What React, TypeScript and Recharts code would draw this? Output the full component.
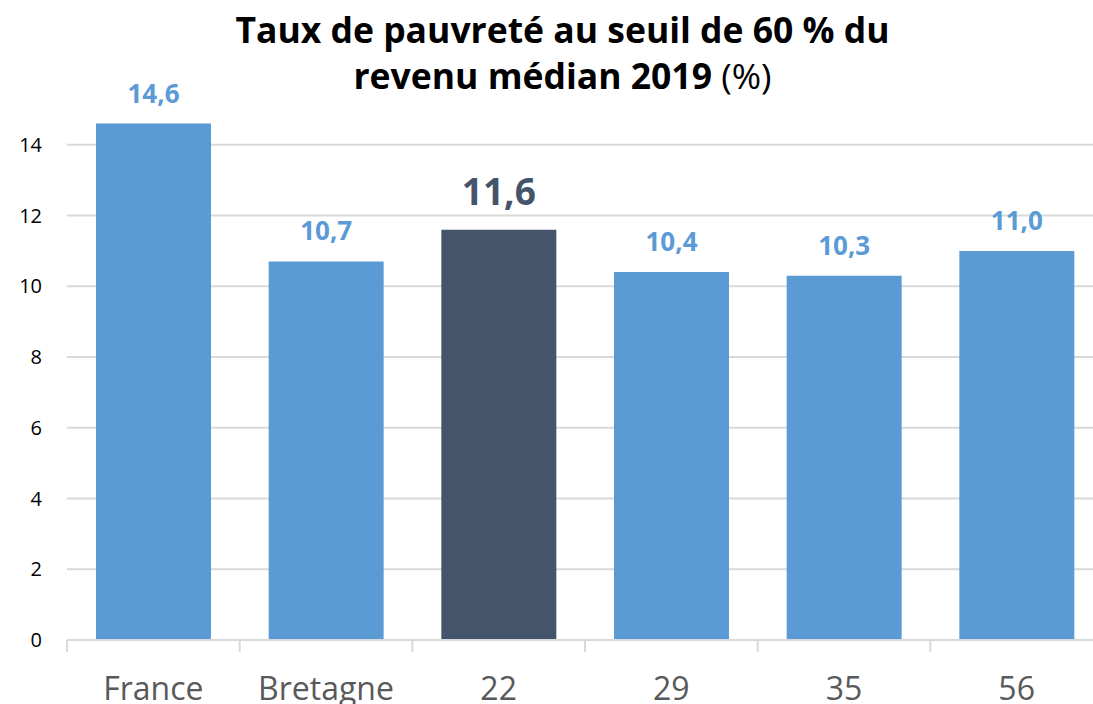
import React from "react";
import { BarChart, Bar, XAxis, YAxis, CartesianGrid, Cell, LabelList } from "recharts";

const categories = ["France", "Bretagne", "22", "29", "35", "56"];
const rates = [14.6, 10.7, 11.6, 10.4, 10.3, 11.0];
const yTicks = [0, 2, 4, 6, 8, 10, 12, 14];
const highlight = "22";

const FONT = "'Open Sans', sans-serif";
const BLUE = "#5B9BD5";
const DARK = "#44546A";
const CHART_W = 1103;
const PLOT_LEFT = 67;
const HALF_BAND = (CHART_W - PLOT_LEFT) / categories.length / 2;

const data = categories.map((name, i) => ({ name, value: rates[i] }));

const fmt = (v: number) => v.toFixed(1).replace(".", ",");

// category labels plus the small separators Excel draws between categories
const XTick = (props: any) => {
  const { x, y, payload, index } = props;
  const last = index === categories.length - 1;
  return (
    <g>
      <line x1={x - HALF_BAND} x2={x - HALF_BAND} y1={y} y2={y + 12} stroke="#D9D9D9" strokeWidth={2} />
      {last && <line x1={x + HALF_BAND} x2={x + HALF_BAND} y1={y} y2={y + 12} stroke="#D9D9D9" strokeWidth={2} />}
      <text x={x} y={y + 60} textAnchor="middle" fill="#595959" fontSize={32} fontFamily={FONT}>
        {payload.value}
      </text>
    </g>
  );
};

const ValueLabel = (props: any) => {
  const { x, y, width, value, index } = props;
  const hot = categories[index] === highlight;
  return (
    <text
      x={x + width / 2}
      y={y - (hot ? 25 : 21)}
      textAnchor="middle"
      fill={hot ? DARK : BLUE}
      fontSize={hot ? 37 : 26}
      fontWeight="bold"
      fontFamily={FONT}
    >
      {fmt(value)}
    </text>
  );
};

export default function App() {
  return (
    <div style={{ position: "absolute", left: 0, top: 0, width: 1093, height: 704, overflow: "hidden", background: "#fff" }}>
      <div
        style={{
          position: "absolute",
          left: 0,
          width: 1125,
          top: 6,
          textAlign: "center",
          fontFamily: FONT,
          fontSize: 35.5,
          lineHeight: "46px",
          fontWeight: "bold",
          color: "#000",
          zIndex: 2,
        }}
      >
        Taux de pauvreté au seuil de 60 % du
        <br />
        revenu médian 2019 <span style={{ fontWeight: "normal" }}>(%)</span>
      </div>
      <BarChart
        width={CHART_W}
        height={704}
        data={data}
        margin={{ top: 74, right: 0, bottom: 0, left: 0 }}
      >
        <CartesianGrid vertical={false} stroke="#D9D9D9" strokeWidth={2} horizontalValues={yTicks} />
        <XAxis
          dataKey="name"
          height={64}
          axisLine={{ stroke: "#D9D9D9", strokeWidth: 2 }}
          tickLine={false}
          tickSize={0}
          tickMargin={0}
          interval={0}
          tick={<XTick />}
        />
        <YAxis
          width={PLOT_LEFT}
          domain={[0, 16]}
          ticks={yTicks}
          axisLine={false}
          tickLine={false}
          tickSize={0}
          tickMargin={25}
          tick={{ fill: "#000", fontSize: 20, fontFamily: FONT }}
        />
        <Bar dataKey="value" barSize={115} isAnimationActive={false}>
          {data.map((d) => (
            <Cell key={d.name} fill={d.name === highlight ? DARK : BLUE} />
          ))}
          <LabelList dataKey="value" content={<ValueLabel />} />
        </Bar>
      </BarChart>
    </div>
  );
}
